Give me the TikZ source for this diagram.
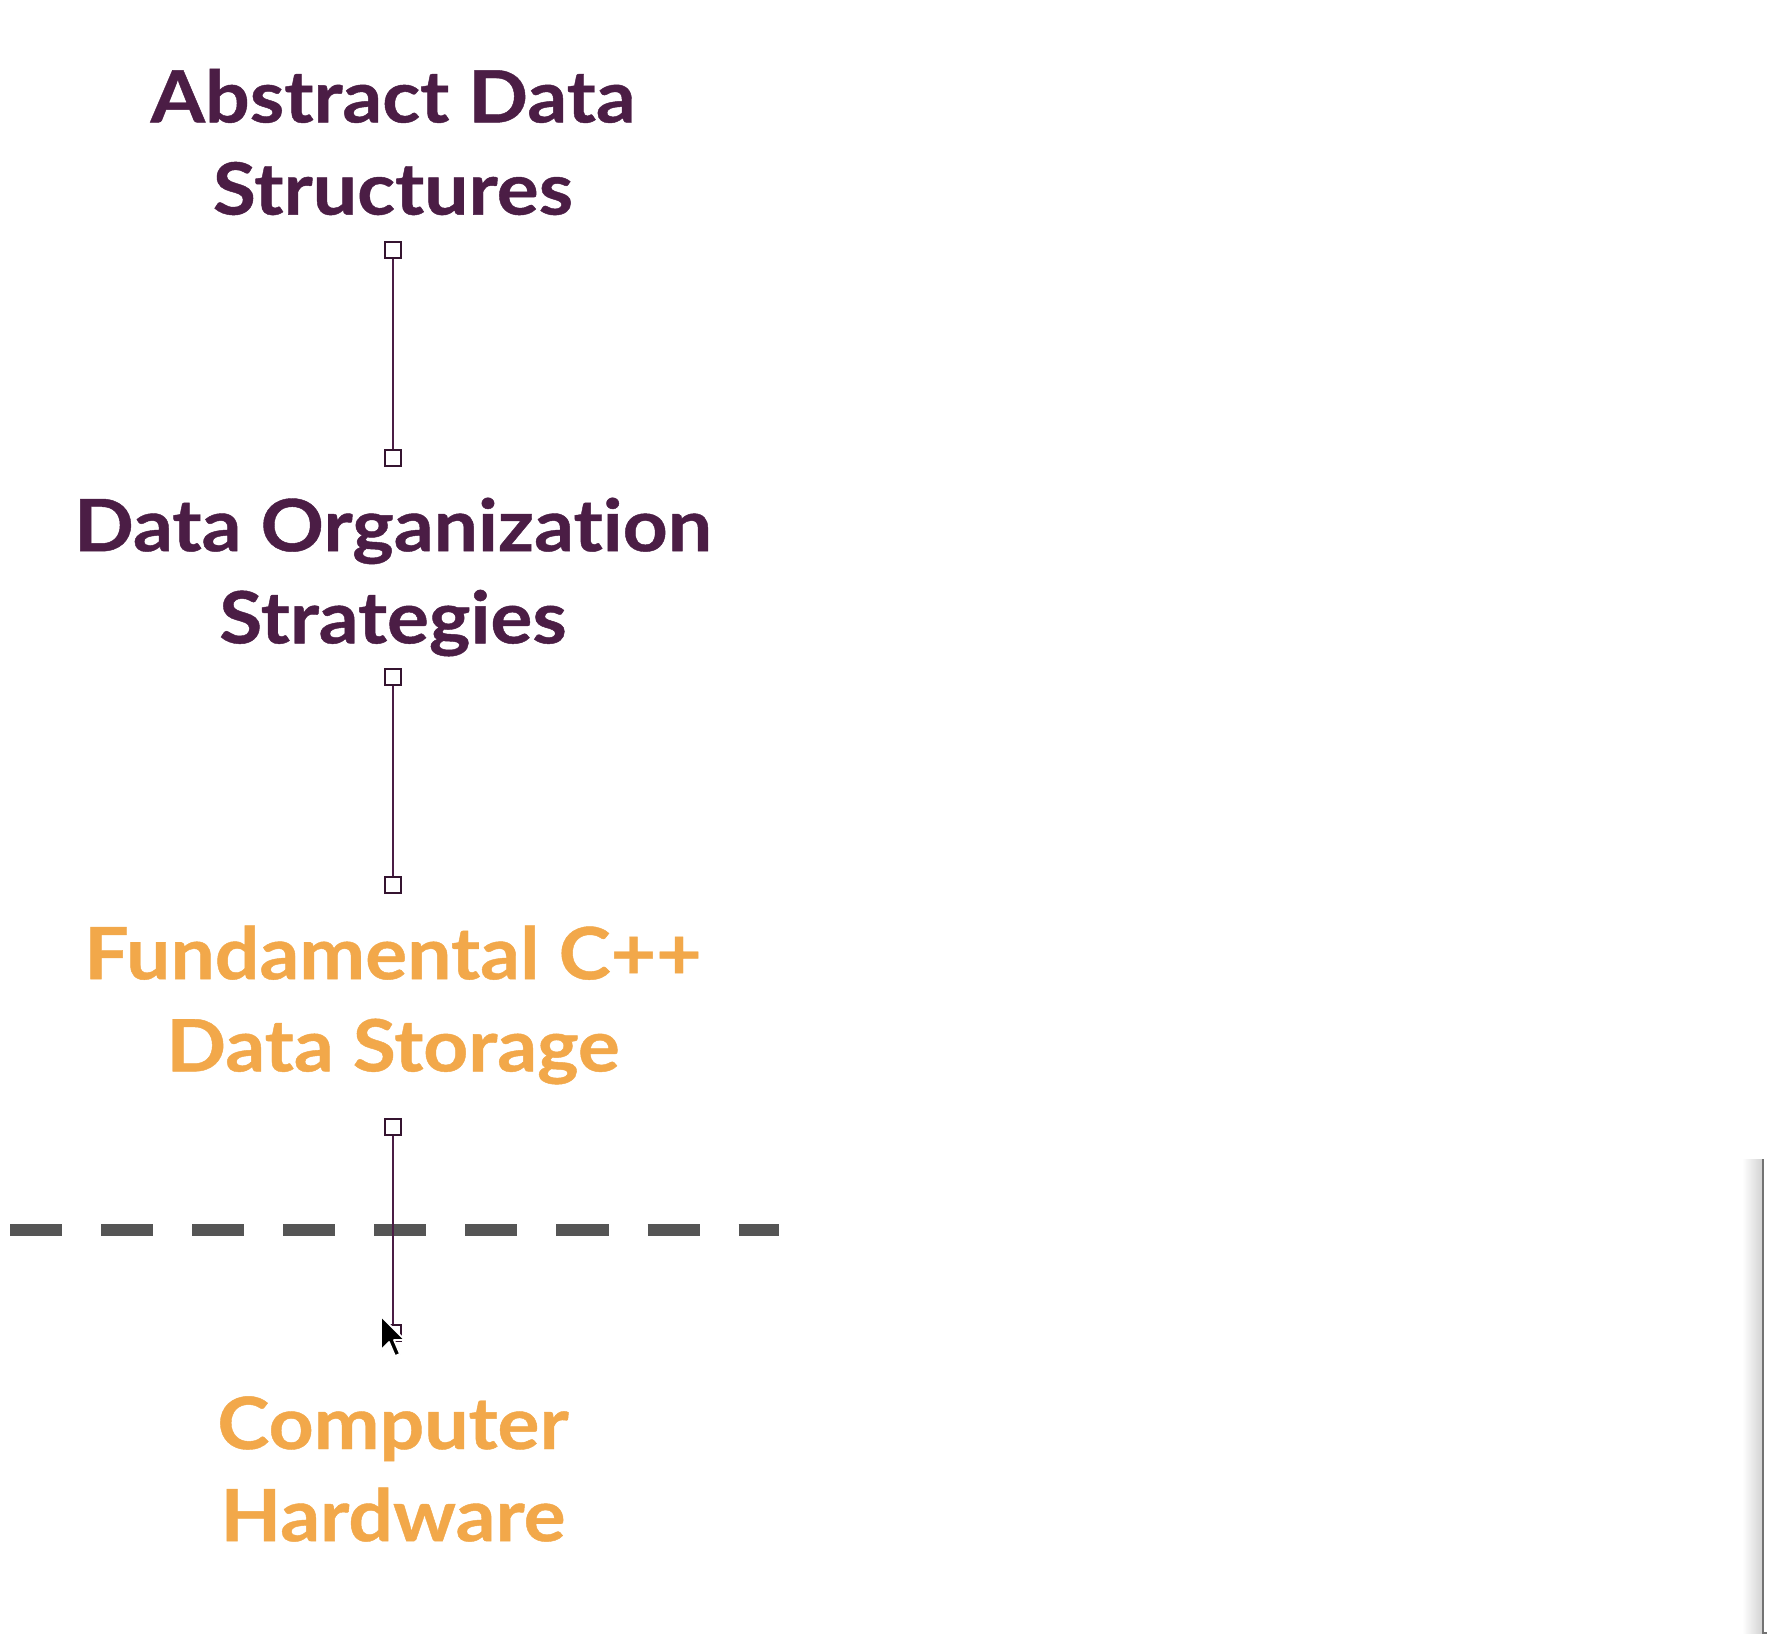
\documentclass[tikz,border=0pt]{standalone}
\usepackage{fontspec}
\setmainfont{Lato}[Ligatures=NoCommon, FakeStretch=1.09, FakeBold=0.6]
\usetikzlibrary{positioning}
\definecolor{plum}{HTML}{4B1D45}
\definecolor{amber}{HTML}{F2A84A}
\definecolor{dashgray}{HTML}{555555}
\tikzset{
  layer/.style={align=center, inner sep=0pt,
    font=\bfseries\fontsize{20.5}{26.2}\selectfont},
  upper layer/.style={layer, text=plum},
  lower layer/.style={layer, text=amber},
  port/.style={draw=plum!70!black, fill=white, line width=0.6pt,
    minimum size=4.4pt, inner sep=0pt},
  link/.style={draw=plum, line width=0.6pt},
}

\begin{document}
\begin{tikzpicture}[x=0.01cm, y=-0.01cm]
\useasboundingbox[fill=white] (0,0) rectangle (1767,1633);
% layers
\node[upper layer] (adt) at (393,142) {Abstract Data\\Structures};
\node[upper layer] (dos) at (393,577) {Data Organization\\Strategies};
\node[lower layer] (cpp) at (393,1005) {Fundamental C++\\Data Storage};
\node[lower layer] (hw) at (393,1469) {Computer\\Hardware};
% separator
\draw[dashgray, line width=3.2pt, dash pattern=on 14.8pt off 11.1pt]
  (10,1230) -- (779,1230);
% ports
\node[port] (adt-out) at (393,250) {};
\node[port] (dos-in) at (393,458) {};
\node[port] (dos-out) at (393,677) {};
\node[port] (cpp-in) at (393,885) {};
\node[port] (cpp-out) at (393,1127) {};
\node[port] (hw-in) at (393,1333) {};
\draw[link] (adt-out) -- (dos-in);
\draw[link] (dos-out) -- (cpp-in);
\draw[link] (cpp-out) -- (hw-in);
% mouse pointer
\filldraw[fill=black, draw=white, line width=0.5pt, line join=round]
  (381,1316) -- ++(0,34) -- ++(8,-8) -- ++(6,14) -- ++(5,-2)
  -- ++(-6,-14) -- ++(11,0) -- cycle;
% window edge
\shade[left color=white, right color=black!18] (1742,1159) rectangle (1763,1633);
\draw[black!55, line width=0.8pt] (1763,1159) -- (1763,1633) -- (1767,1633);
\end{tikzpicture}
\end{document}
